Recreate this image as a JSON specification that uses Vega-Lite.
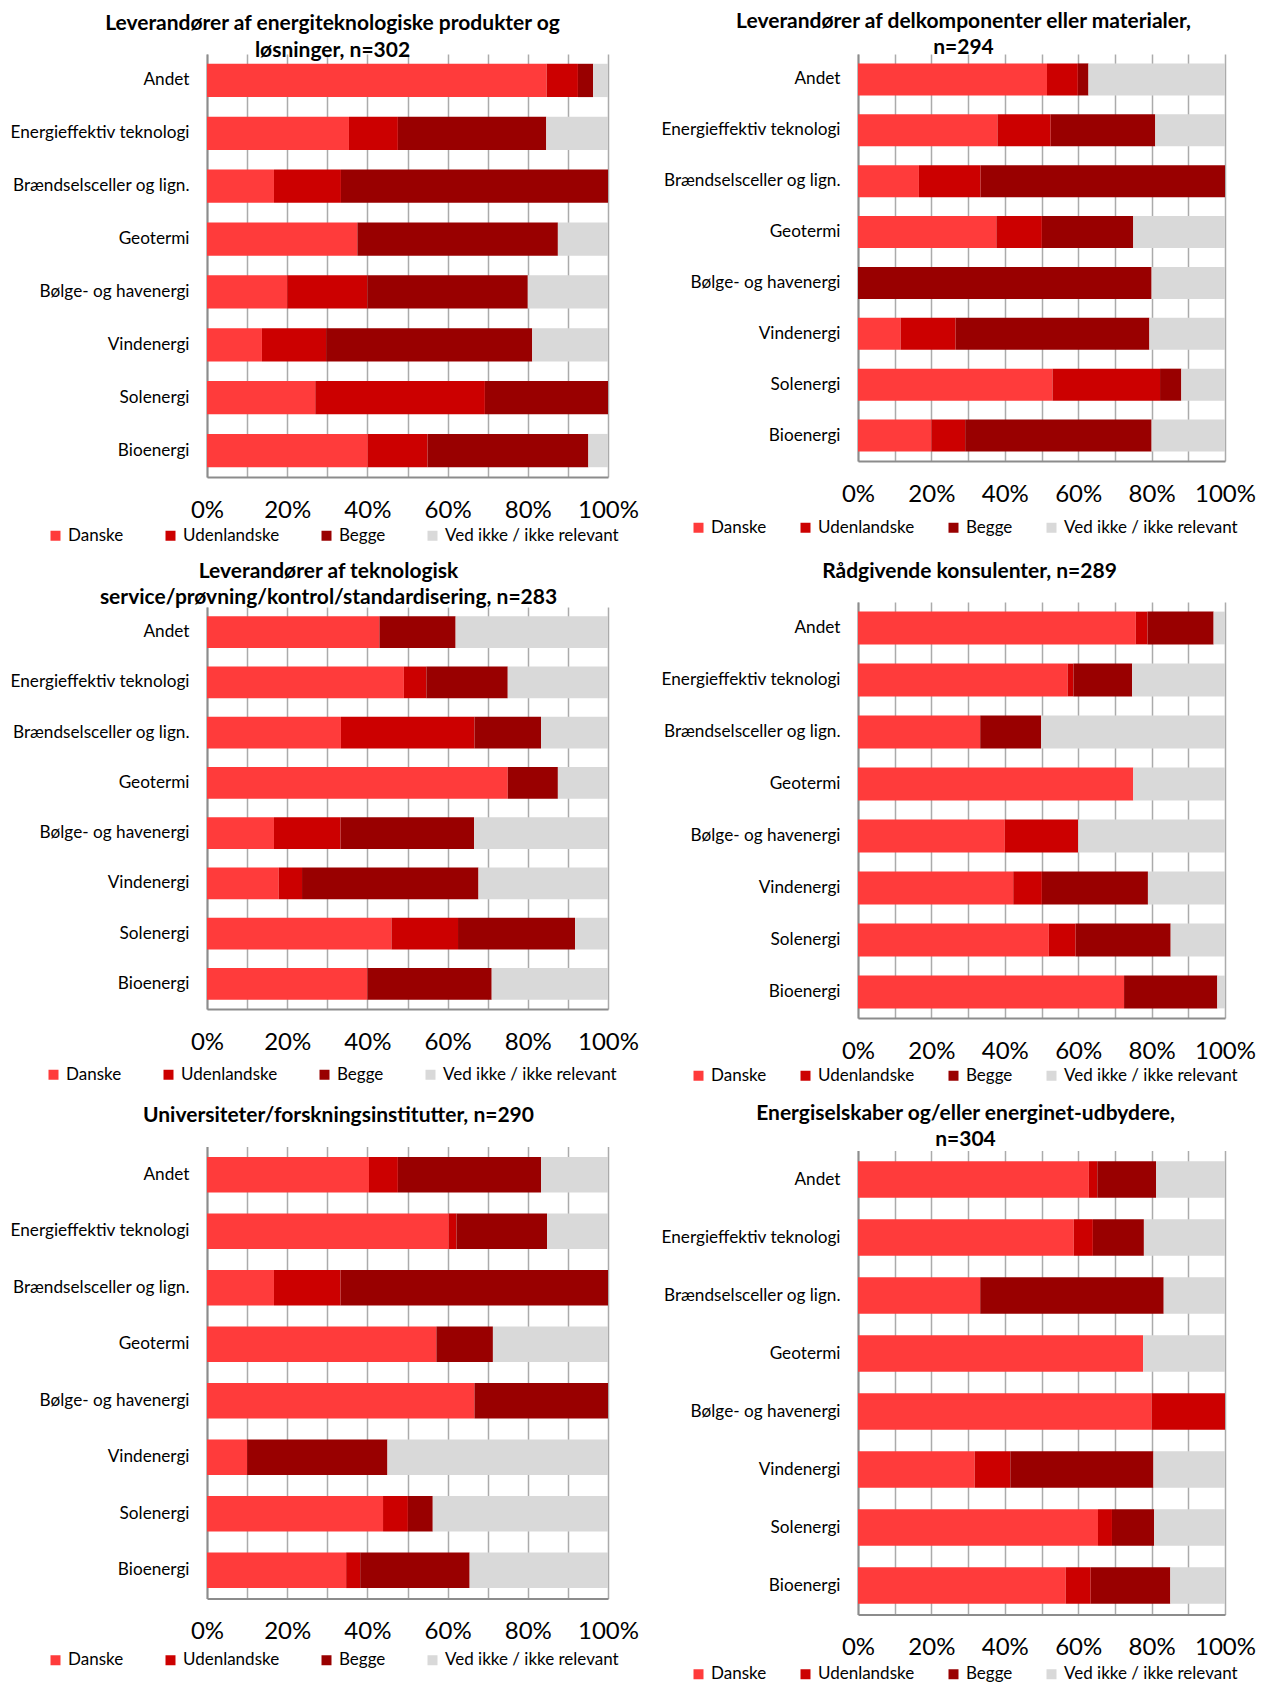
{
  "$schema": "https://vega.github.io/schema/vega-lite/v6.json",
  "background": "white",
  "padding": {"left": 9, "top": 10, "right": 5, "bottom": 5},
  "config": {
    "font": "Lato",
    "view": {"stroke": null},
    "title": {"fontSize": 21, "fontWeight": "bold", "color": "#000000", "lineHeight": 26.5, "anchor": "middle", "frame": "group"},
    "axisX": {"grid": true, "gridColor": "#ABABAB", "gridWidth": 1.5, "domainColor": "#8C8C8C", "domainWidth": 2, "ticks": false, "labelFontSize": 24, "labelPadding": 33, "labelBaseline": "middle", "labelColor": "#000000", "labelOverlap": false, "labelFlush": false},
    "axisY": {"grid": false, "domainColor": "#8C8C8C", "domainWidth": 2, "ticks": false, "labelFontSize": 17.2, "labelPadding": 18, "labelColor": "#000000", "labelLimit": 400},
    "legend": {"orient": "none", "direction": "horizontal", "columns": 4, "symbolType": "square", "symbolSize": 100, "symbolStrokeWidth": 0, "labelFontSize": 17, "labelColor": "#000000", "labelOffset": 4, "labelLimit": 400, "columnPadding": 38, "padding": 0},
    "bar": {"strokeWidth": 0}
  },
  "datasets": {
    "rækkefølge": [
      {"svar": "Danske", "nr": 1},
      {"svar": "Udenlandske", "nr": 2},
      {"svar": "Begge", "nr": 3},
      {"svar": "Ved ikke / ikke relevant", "nr": 4}
    ],
    "p1": [
      {"kategori": "Andet", "Danske": 84.7, "Udenlandske": 7.8, "Begge": 3.8, "Ved ikke / ikke relevant": 3.7},
      {"kategori": "Energieffektiv teknologi", "Danske": 35.4, "Udenlandske": 12.2, "Begge": 37.0, "Ved ikke / ikke relevant": 15.4},
      {"kategori": "Brændselsceller og lign.", "Danske": 16.7, "Udenlandske": 16.7, "Begge": 66.6, "Ved ikke / ikke relevant": 0},
      {"kategori": "Geotermi", "Danske": 37.5, "Udenlandske": 0, "Begge": 50.0, "Ved ikke / ikke relevant": 12.5},
      {"kategori": "Bølge- og havenergi", "Danske": 20.0, "Udenlandske": 20.0, "Begge": 40.0, "Ved ikke / ikke relevant": 20.0},
      {"kategori": "Vindenergi", "Danske": 13.7, "Udenlandske": 16.0, "Begge": 51.4, "Ved ikke / ikke relevant": 18.9},
      {"kategori": "Solenergi", "Danske": 27.0, "Udenlandske": 42.3, "Begge": 30.7, "Ved ikke / ikke relevant": 0},
      {"kategori": "Bioenergi", "Danske": 40.1, "Udenlandske": 14.9, "Begge": 40.1, "Ved ikke / ikke relevant": 4.9}
    ],
    "p2": [
      {"kategori": "Andet", "Danske": 51.5, "Udenlandske": 8.4, "Begge": 2.9, "Ved ikke / ikke relevant": 37.2},
      {"kategori": "Energieffektiv teknologi", "Danske": 38.0, "Udenlandske": 14.5, "Begge": 28.5, "Ved ikke / ikke relevant": 19.0},
      {"kategori": "Brændselsceller og lign.", "Danske": 16.6, "Udenlandske": 16.8, "Begge": 66.6, "Ved ikke / ikke relevant": 0},
      {"kategori": "Geotermi", "Danske": 37.7, "Udenlandske": 12.4, "Begge": 24.9, "Ved ikke / ikke relevant": 25.0},
      {"kategori": "Bølge- og havenergi", "Danske": 0, "Udenlandske": 0, "Begge": 80.0, "Ved ikke / ikke relevant": 20.0},
      {"kategori": "Vindenergi", "Danske": 11.6, "Udenlandske": 15.0, "Begge": 52.8, "Ved ikke / ikke relevant": 20.6},
      {"kategori": "Solenergi", "Danske": 53.0, "Udenlandske": 29.3, "Begge": 5.8, "Ved ikke / ikke relevant": 11.9},
      {"kategori": "Bioenergi", "Danske": 20.0, "Udenlandske": 9.2, "Begge": 50.8, "Ved ikke / ikke relevant": 20.0}
    ],
    "p3": [
      {"kategori": "Andet", "Danske": 43.0, "Udenlandske": 0, "Begge": 19.0, "Ved ikke / ikke relevant": 38.0},
      {"kategori": "Energieffektiv teknologi", "Danske": 49.1, "Udenlandske": 5.6, "Begge": 20.3, "Ved ikke / ikke relevant": 25.0},
      {"kategori": "Brændselsceller og lign.", "Danske": 33.4, "Udenlandske": 33.3, "Begge": 16.6, "Ved ikke / ikke relevant": 16.7},
      {"kategori": "Geotermi", "Danske": 75.0, "Udenlandske": 0, "Begge": 12.5, "Ved ikke / ikke relevant": 12.5},
      {"kategori": "Bølge- og havenergi", "Danske": 16.7, "Udenlandske": 16.6, "Begge": 33.3, "Ved ikke / ikke relevant": 33.4},
      {"kategori": "Vindenergi", "Danske": 17.9, "Udenlandske": 5.8, "Begge": 44.0, "Ved ikke / ikke relevant": 32.3},
      {"kategori": "Solenergi", "Danske": 46.0, "Udenlandske": 16.6, "Begge": 29.2, "Ved ikke / ikke relevant": 8.2},
      {"kategori": "Bioenergi", "Danske": 40.0, "Udenlandske": 0, "Begge": 31.0, "Ved ikke / ikke relevant": 29.0}
    ],
    "p4": [
      {"kategori": "Andet", "Danske": 75.7, "Udenlandske": 3.2, "Begge": 18.0, "Ved ikke / ikke relevant": 3.1},
      {"kategori": "Energieffektiv teknologi", "Danske": 57.1, "Udenlandske": 1.6, "Begge": 16.0, "Ved ikke / ikke relevant": 25.3},
      {"kategori": "Brændselsceller og lign.", "Danske": 33.3, "Udenlandske": 0, "Begge": 16.6, "Ved ikke / ikke relevant": 50.1},
      {"kategori": "Geotermi", "Danske": 75.0, "Udenlandske": 0, "Begge": 0, "Ved ikke / ikke relevant": 25.0},
      {"kategori": "Bølge- og havenergi", "Danske": 40.0, "Udenlandske": 20.0, "Begge": 0, "Ved ikke / ikke relevant": 40.0},
      {"kategori": "Vindenergi", "Danske": 42.3, "Udenlandske": 7.8, "Begge": 28.9, "Ved ikke / ikke relevant": 21.0},
      {"kategori": "Solenergi", "Danske": 52.0, "Udenlandske": 7.3, "Begge": 25.9, "Ved ikke / ikke relevant": 14.8},
      {"kategori": "Bioenergi", "Danske": 72.5, "Udenlandske": 0, "Begge": 25.4, "Ved ikke / ikke relevant": 2.1}
    ],
    "p5": [
      {"kategori": "Andet", "Danske": 40.4, "Udenlandske": 7.2, "Begge": 35.7, "Ved ikke / ikke relevant": 16.7},
      {"kategori": "Energieffektiv teknologi", "Danske": 60.3, "Udenlandske": 1.9, "Begge": 22.6, "Ved ikke / ikke relevant": 15.2},
      {"kategori": "Brændselsceller og lign.", "Danske": 16.7, "Udenlandske": 16.6, "Begge": 66.7, "Ved ikke / ikke relevant": 0},
      {"kategori": "Geotermi", "Danske": 57.2, "Udenlandske": 0, "Begge": 14.1, "Ved ikke / ikke relevant": 28.7},
      {"kategori": "Bølge- og havenergi", "Danske": 66.7, "Udenlandske": 0, "Begge": 33.3, "Ved ikke / ikke relevant": 0},
      {"kategori": "Vindenergi", "Danske": 10.0, "Udenlandske": 0, "Begge": 35.0, "Ved ikke / ikke relevant": 55.0},
      {"kategori": "Solenergi", "Danske": 43.9, "Udenlandske": 6.2, "Begge": 6.2, "Ved ikke / ikke relevant": 43.7},
      {"kategori": "Bioenergi", "Danske": 34.7, "Udenlandske": 3.5, "Begge": 27.3, "Ved ikke / ikke relevant": 34.5}
    ],
    "p6": [
      {"kategori": "Andet", "Danske": 62.9, "Udenlandske": 2.3, "Begge": 16.0, "Ved ikke / ikke relevant": 18.8},
      {"kategori": "Energieffektiv teknologi", "Danske": 58.8, "Udenlandske": 5.2, "Begge": 13.9, "Ved ikke / ikke relevant": 22.1},
      {"kategori": "Brændselsceller og lign.", "Danske": 33.3, "Udenlandske": 0, "Begge": 50.0, "Ved ikke / ikke relevant": 16.7},
      {"kategori": "Geotermi", "Danske": 77.7, "Udenlandske": 0, "Begge": 0, "Ved ikke / ikke relevant": 22.3},
      {"kategori": "Bølge- og havenergi", "Danske": 80.0, "Udenlandske": 20.0, "Begge": 0, "Ved ikke / ikke relevant": 0},
      {"kategori": "Vindenergi", "Danske": 31.8, "Udenlandske": 9.7, "Begge": 39.0, "Ved ikke / ikke relevant": 19.5},
      {"kategori": "Solenergi", "Danske": 65.4, "Udenlandske": 3.8, "Begge": 11.5, "Ved ikke / ikke relevant": 19.3},
      {"kategori": "Bioenergi", "Danske": 56.6, "Udenlandske": 6.8, "Begge": 21.7, "Ved ikke / ikke relevant": 14.9}
    ]
  },
  "spacing": 21,
  "resolve": {"scale": {"color": "independent"}, "legend": {"color": "independent"}},
  "hconcat": [
    {
      "spacing": 21.5,
      "resolve": {"scale": {"color": "independent"}, "legend": {"color": "independent"}},
      "vconcat": [
        {
          "spacing": 16,
          "resolve": {"scale": {"color": "independent"}, "legend": {"color": "independent"}},
          "vconcat": [
            {
              "width": 401, "height": 423,
              "title": {"text": ["Leverandører af energiteknologiske produkter og", "løsninger, n=302"], "dx": -75, "offset": -6.5},
              "data": {"name": "p1"},
              "transform": [{"fold": ["Danske", "Udenlandske", "Begge", "Ved ikke / ikke relevant"], "as": ["svar", "andel"]}, {"lookup": "svar", "from": {"data": {"name": "rækkefølge"}, "key": "svar", "fields": ["nr"]}}],
              "mark": {"type": "bar"},
              "encoding": {
                "y": {"field": "kategori", "type": "nominal", "title": null, "sort": ["Andet", "Energieffektiv teknologi", "Brændselsceller og lign.", "Geotermi", "Bølge- og havenergi", "Vindenergi", "Solenergi", "Bioenergi"], "scale": {"paddingInner": 0.37, "paddingOuter": 0.185}},
                "x": {"field": "andel", "type": "quantitative", "stack": "normalize", "title": null, "scale": {"domain": [0, 1], "nice": false}, "axis": {"values": [0, 0.1, 0.2, 0.3, 0.4, 0.5, 0.6, 0.7, 0.8, 0.9, 1], "format": ".0%", "labelExpr": "round(datum.value*10) % 2 == 0 ? datum.label : ''"}},
                "order": {"field": "nr", "type": "quantitative"},
                "color": {"field": "svar", "type": "nominal", "sort": ["Danske", "Udenlandske", "Begge", "Ved ikke / ikke relevant"], "scale": {"domain": ["Danske", "Udenlandske", "Begge", "Ved ikke / ikke relevant"], "range": ["#FF3B3B", "#CC0000", "#990000", "#D9D9D9"]}, "legend": {"title": null, "legendX": -160, "legendY": 473}}
              }
            },
            {
              "width": 401, "height": 402,
              "title": {"text": ["Leverandører af teknologisk", "service/prøvning/kontrol/standardisering, n=283"], "dx": -79, "offset": -1},
              "data": {"name": "p3"},
              "transform": [{"fold": ["Danske", "Udenlandske", "Begge", "Ved ikke / ikke relevant"], "as": ["svar", "andel"]}, {"lookup": "svar", "from": {"data": {"name": "rækkefølge"}, "key": "svar", "fields": ["nr"]}}],
              "mark": {"type": "bar"},
              "encoding": {
                "y": {"field": "kategori", "type": "nominal", "title": null, "sort": ["Andet", "Energieffektiv teknologi", "Brændselsceller og lign.", "Geotermi", "Bølge- og havenergi", "Vindenergi", "Solenergi", "Bioenergi"], "scale": {"paddingInner": 0.37, "paddingOuter": 0.185}},
                "x": {"field": "andel", "type": "quantitative", "stack": "normalize", "title": null, "scale": {"domain": [0, 1], "nice": false}, "axis": {"values": [0, 0.1, 0.2, 0.3, 0.4, 0.5, 0.6, 0.7, 0.8, 0.9, 1], "format": ".0%", "labelExpr": "round(datum.value*10) % 2 == 0 ? datum.label : ''"}},
                "order": {"field": "nr", "type": "quantitative"},
                "color": {"field": "svar", "type": "nominal", "sort": ["Danske", "Udenlandske", "Begge", "Ved ikke / ikke relevant"], "scale": {"domain": ["Danske", "Udenlandske", "Begge", "Ved ikke / ikke relevant"], "range": ["#FF3B3B", "#CC0000", "#990000", "#D9D9D9"]}, "legend": {"title": null, "legendX": -162, "legendY": 459}}
              }
            }
          ]
        },
        {
          "width": 401, "height": 452,
          "title": {"text": "Universiteter/forskningsinstitutter, n=290", "dx": -69, "offset": 21},
          "data": {"name": "p5"},
          "transform": [{"fold": ["Danske", "Udenlandske", "Begge", "Ved ikke / ikke relevant"], "as": ["svar", "andel"]}, {"lookup": "svar", "from": {"data": {"name": "rækkefølge"}, "key": "svar", "fields": ["nr"]}}],
          "mark": {"type": "bar"},
          "encoding": {
            "y": {"field": "kategori", "type": "nominal", "title": null, "sort": ["Andet", "Energieffektiv teknologi", "Brændselsceller og lign.", "Geotermi", "Bølge- og havenergi", "Vindenergi", "Solenergi", "Bioenergi"], "scale": {"paddingInner": 0.37, "paddingOuter": 0.185}},
            "x": {"field": "andel", "type": "quantitative", "stack": "normalize", "title": null, "scale": {"domain": [0, 1], "nice": false}, "axis": {"values": [0, 0.1, 0.2, 0.3, 0.4, 0.5, 0.6, 0.7, 0.8, 0.9, 1], "format": ".0%", "labelExpr": "round(datum.value*10) % 2 == 0 ? datum.label : ''"}},
            "order": {"field": "nr", "type": "quantitative"},
            "color": {"field": "svar", "type": "nominal", "sort": ["Danske", "Udenlandske", "Begge", "Ved ikke / ikke relevant"], "scale": {"domain": ["Danske", "Udenlandske", "Begge", "Ved ikke / ikke relevant"], "range": ["#FF3B3B", "#CC0000", "#990000", "#D9D9D9"]}, "legend": {"title": null, "legendX": -160, "legendY": 505}}
          }
        }
      ]
    },
    {
      "spacing": 18.5,
      "resolve": {"scale": {"color": "independent"}, "legend": {"color": "independent"}},
      "vconcat": [
        {
          "spacing": 24,
          "resolve": {"scale": {"color": "independent"}, "legend": {"color": "independent"}},
          "vconcat": [
            {
              "width": 367, "height": 407,
              "title": {"text": ["Leverandører af delkomponenter eller materialer,", "n=294"], "dx": -78, "offset": -4.2},
              "data": {"name": "p2"},
              "transform": [{"fold": ["Danske", "Udenlandske", "Begge", "Ved ikke / ikke relevant"], "as": ["svar", "andel"]}, {"lookup": "svar", "from": {"data": {"name": "rækkefølge"}, "key": "svar", "fields": ["nr"]}}],
              "mark": {"type": "bar"},
              "encoding": {
                "y": {"field": "kategori", "type": "nominal", "title": null, "sort": ["Andet", "Energieffektiv teknologi", "Brændselsceller og lign.", "Geotermi", "Bølge- og havenergi", "Vindenergi", "Solenergi", "Bioenergi"], "scale": {"paddingInner": 0.37, "paddingOuter": 0.185}},
                "x": {"field": "andel", "type": "quantitative", "stack": "normalize", "title": null, "scale": {"domain": [0, 1], "nice": false}, "axis": {"values": [0, 0.1, 0.2, 0.3, 0.4, 0.5, 0.6, 0.7, 0.8, 0.9, 1], "format": ".0%", "labelExpr": "round(datum.value*10) % 2 == 0 ? datum.label : ''"}},
                "order": {"field": "nr", "type": "quantitative"},
                "color": {"field": "svar", "type": "nominal", "sort": ["Danske", "Udenlandske", "Begge", "Ved ikke / ikke relevant"], "scale": {"domain": ["Danske", "Udenlandske", "Begge", "Ved ikke / ikke relevant"], "range": ["#FF3B3B", "#CC0000", "#990000", "#D9D9D9"]}, "legend": {"title": null, "legendX": -168, "legendY": 465, "columnPadding": 30}}
              }
            },
            {
              "width": 367, "height": 416,
              "title": {"text": "Rådgivende konsulenter, n=289", "dx": -72, "offset": 20.4},
              "data": {"name": "p4"},
              "transform": [{"fold": ["Danske", "Udenlandske", "Begge", "Ved ikke / ikke relevant"], "as": ["svar", "andel"]}, {"lookup": "svar", "from": {"data": {"name": "rækkefølge"}, "key": "svar", "fields": ["nr"]}}],
              "mark": {"type": "bar"},
              "encoding": {
                "y": {"field": "kategori", "type": "nominal", "title": null, "sort": ["Andet", "Energieffektiv teknologi", "Brændselsceller og lign.", "Geotermi", "Bølge- og havenergi", "Vindenergi", "Solenergi", "Bioenergi"], "scale": {"paddingInner": 0.37, "paddingOuter": 0.185}},
                "x": {"field": "andel", "type": "quantitative", "stack": "normalize", "title": null, "scale": {"domain": [0, 1], "nice": false}, "axis": {"values": [0, 0.1, 0.2, 0.3, 0.4, 0.5, 0.6, 0.7, 0.8, 0.9, 1], "format": ".0%", "labelExpr": "round(datum.value*10) % 2 == 0 ? datum.label : ''"}},
                "order": {"field": "nr", "type": "quantitative"},
                "color": {"field": "svar", "type": "nominal", "sort": ["Danske", "Udenlandske", "Begge", "Ved ikke / ikke relevant"], "scale": {"domain": ["Danske", "Udenlandske", "Begge", "Ved ikke / ikke relevant"], "range": ["#FF3B3B", "#CC0000", "#990000", "#D9D9D9"]}, "legend": {"title": null, "legendX": -168, "legendY": 465, "columnPadding": 30}}
              }
            }
          ]
        },
        {
          "width": 367, "height": 464,
          "title": {"text": ["Energiselskaber og/eller energinet-udbydere,", "n=304"], "dx": -76, "offset": 0.2},
          "data": {"name": "p6"},
          "transform": [{"fold": ["Danske", "Udenlandske", "Begge", "Ved ikke / ikke relevant"], "as": ["svar", "andel"]}, {"lookup": "svar", "from": {"data": {"name": "rækkefølge"}, "key": "svar", "fields": ["nr"]}}],
          "mark": {"type": "bar"},
          "encoding": {
            "y": {"field": "kategori", "type": "nominal", "title": null, "sort": ["Andet", "Energieffektiv teknologi", "Brændselsceller og lign.", "Geotermi", "Bølge- og havenergi", "Vindenergi", "Solenergi", "Bioenergi"], "scale": {"paddingInner": 0.37, "paddingOuter": 0.185}},
            "x": {"field": "andel", "type": "quantitative", "stack": "normalize", "title": null, "scale": {"domain": [0, 1], "nice": false}, "axis": {"values": [0, 0.1, 0.2, 0.3, 0.4, 0.5, 0.6, 0.7, 0.8, 0.9, 1], "format": ".0%", "labelExpr": "round(datum.value*10) % 2 == 0 ? datum.label : ''"}},
            "order": {"field": "nr", "type": "quantitative"},
            "color": {"field": "svar", "type": "nominal", "sort": ["Danske", "Udenlandske", "Begge", "Ved ikke / ikke relevant"], "scale": {"domain": ["Danske", "Udenlandske", "Begge", "Ved ikke / ikke relevant"], "range": ["#FF3B3B", "#CC0000", "#990000", "#D9D9D9"]}, "legend": {"title": null, "legendX": -168, "legendY": 515, "columnPadding": 30}}
          }
        }
      ]
    }
  ]
}
